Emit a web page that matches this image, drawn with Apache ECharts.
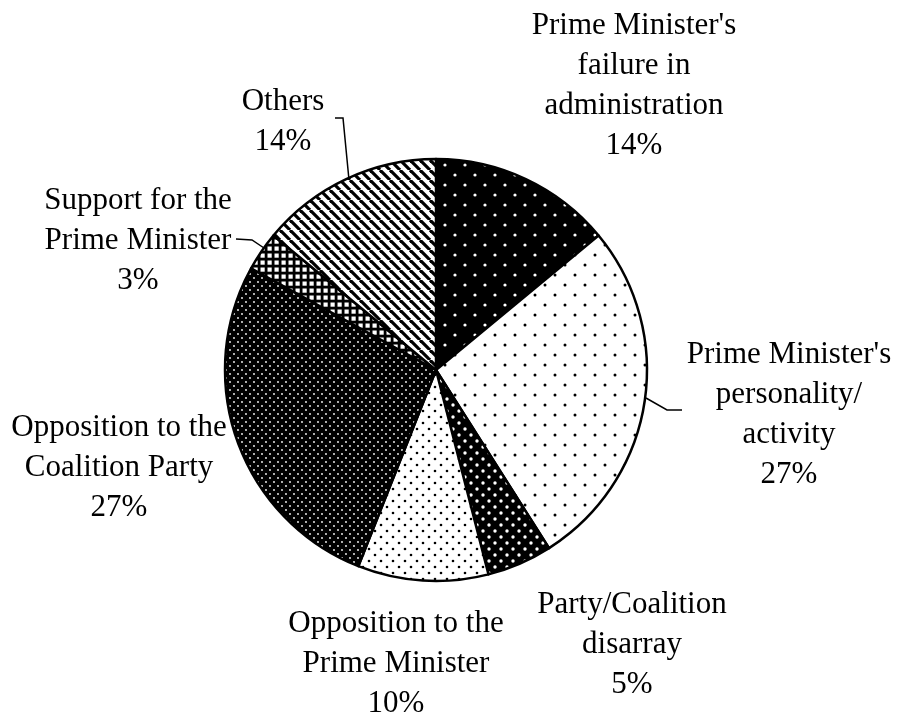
<!DOCTYPE html>
<html>
<head>
<meta charset="utf-8">
<style>
  html, body { margin: 0; padding: 0; background: #fff; }
  #chart { width: 903px; height: 717px; }
</style>
<script src="https://cdn.jsdelivr.net/npm/echarts@6/dist/echarts.min.js"></script>
</head>
<body>
<div id="chart"></div>
<script>
// Reasons given, share of respondents (%)
const categories = [
  "Prime Minister's\nfailure in\nadministration",
  "Prime Minister's\npersonality/\nactivity",
  "Party/Coalition\ndisarray",
  "Opposition to the\nPrime Minister",
  "Opposition to the\nCoalition Party",
  "Support for the\nPrime Minister",
  "Others"
];
const shares = [14, 27, 5, 10, 27, 3, 14];

// ---- monochrome fill patterns, one per slice ----
function tile(size, draw) {
  const c = document.createElement('canvas');
  c.width = size; c.height = size;
  const g = c.getContext('2d');
  draw(g, size);
  return c;
}
function dots(size, bg, fg, r, pts) {
  return tile(size, (g, s) => {
    g.fillStyle = bg; g.fillRect(0, 0, s, s);
    g.fillStyle = fg;
    pts.forEach(p => { g.beginPath(); g.arc(p[0], p[1], r, 0, Math.PI * 2); g.fill(); });
  });
}
const patterns = [
  dots(20, '#000', '#fff', 1.6, [[5, 5], [15, 15]]),          // white dots on black
  dots(20, '#fff', '#000', 1.5, [[5, 5], [15, 15]]),          // sparse black dots
  dots(12, '#000', '#fff', 1.7, [[3, 3], [9, 9]]),            // dense white dots on black
  dots(12, '#fff', '#000', 1.3, [[3, 3], [9, 9]]),            // dense black dots
  dots(8, '#000', '#fff', 0.9, [[2, 2], [6, 6]]),             // fine white dots on black
  tile(7, (g, s) => {                                          // white check grid on black
    g.fillStyle = '#000'; g.fillRect(0, 0, s, s);
    g.fillStyle = '#fff'; g.fillRect(1.5, 1.5, 4.2, 4.2);
  }),
  tile(10, (g, s) => {                                         // diagonal stripes
    g.fillStyle = '#fff'; g.fillRect(0, 0, s, s);
    g.strokeStyle = '#000'; g.lineWidth = 3.2;
    for (let k = -1; k <= 1; k++) {
      g.beginPath(); g.moveTo(k * s, 0); g.lineTo(k * s + s, s); g.stroke();
    }
  })
];

// label block centres and leader lines
const labelPlace = [
  { x: 634, y: 86 },
  { x: 789, y: 415, line: [[646, 398], [667, 410], [682, 410]] },
  { x: 632, y: 645 },
  { x: 396, y: 664 },
  { x: 119, y: 468 },
  { x: 138, y: 241, line: [[264, 248], [252, 240], [236, 239]] },
  { x: 283, y: 122, line: [[349, 180], [343, 118], [335, 118]] }
];

const chart = echarts.init(document.getElementById('chart'), null, { renderer: 'canvas' });

chart.setOption({
  backgroundColor: '#fff',
  animation: false,
  series: [{
    type: 'pie',
    center: [436, 370],
    radius: 211,
    startAngle: 90,
    clockwise: true,
    avoidLabelOverlap: false,
    data: categories.map((name, i) => ({
      name: name,
      value: shares[i],
      itemStyle: { color: { image: patterns[i], repeat: 'repeat' } },
      labelLine: { show: !!labelPlace[i].line }
    })),
    itemStyle: { borderColor: '#000', borderWidth: 2.5 },
    label: {
      show: true,
      position: 'outer',
      formatter: p => p.name + '\n' + p.value + '%',
      fontFamily: 'Liberation Serif',
      fontSize: 31,
      lineHeight: 40,
      color: '#000',
      align: 'center'
    },
    labelLine: {
      lineStyle: { color: '#000', width: 1.5 },
      smooth: false
    },
    labelLayout: function (params) {
      const p = labelPlace[params.dataIndex];
      const out = { x: p.x, y: p.y, align: 'center', verticalAlign: 'middle' };
      if (p.line) out.labelLinePoints = p.line;
      return out;
    },
    emphasis: { disabled: true }
  }]
});
</script>
</body>
</html>
